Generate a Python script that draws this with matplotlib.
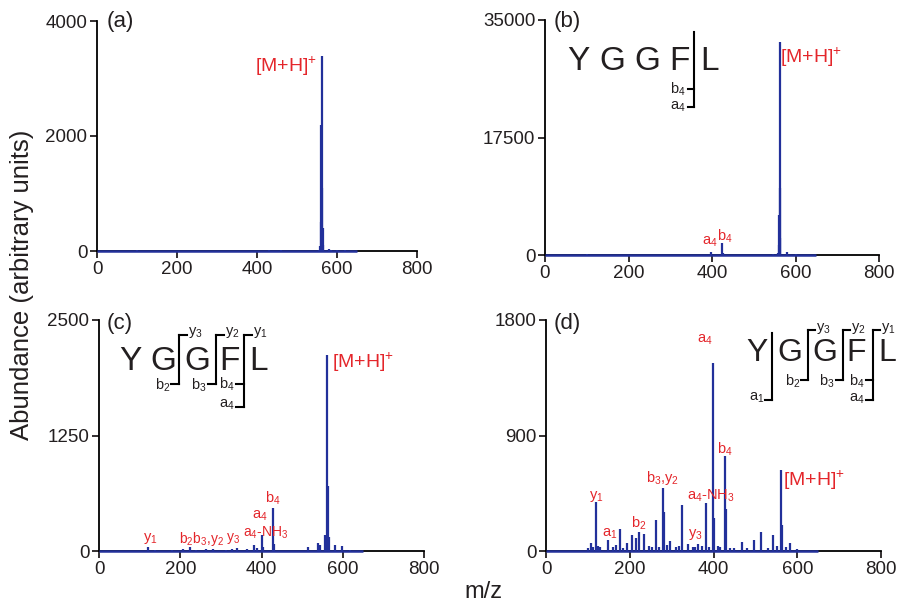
import matplotlib
matplotlib.use("Agg")
import matplotlib.pyplot as plt
from matplotlib.lines import Line2D

plt.rcParams['font.family'] = ['Liberation Sans', 'DejaVu Sans']
plt.rcParams['mathtext.fontset'] = 'custom'
plt.rcParams['mathtext.rm'] = 'Liberation Sans'
plt.rcParams['mathtext.default'] = 'regular'

# ---------------- data ----------------
baseline_range = [0, 650]

mz_a = [100, 430, 460, 555, 558, 560, 561, 562, 563, 564, 565, 580, 584, 600, 620]
int_a = [10, 10, 15, 20, 80, 500, 2200, 3400, 1100, 400, 100, 30, 20, 25, 10]

mz_b = [100, 300, 397, 425, 427, 545, 558, 560, 561, 562, 563, 564, 580, 600]
int_b = [80, 60, 450, 1800, 300, 200, 300, 1500, 6000, 31700, 10000, 2500, 400, 200]

mz_c = [121, 138, 179, 207, 224, 239, 263, 280, 313, 327, 340, 364, 382, 388, 401, 404,
        428, 431, 514, 539, 544, 556, 561, 563, 565, 581, 598, 618]
int_c = [47, 15, 10, 25, 40, 15, 20, 25, 15, 20, 35, 20, 70, 30, 173, 40,
         465, 80, 45, 90, 60, 175, 2120, 700, 150, 70, 50, 10]

mz_d = [100, 107, 112, 119, 125, 130, 148, 160, 168, 176, 185, 193, 205, 215, 222, 234,
        245, 252, 262, 270, 280, 282, 290, 296, 310, 318, 325, 339, 350, 356, 363, 372,
        382, 390, 399, 401, 410, 416, 427, 430, 440, 450, 468, 480, 497, 513, 530, 542,
        552, 561, 564, 572, 583, 600]
int_d = [20, 62, 30, 382, 40, 35, 86, 30, 45, 171, 25, 62, 125, 101, 148, 132,
         40, 35, 241, 30, 491, 304, 45, 78, 30, 40, 358, 55, 30, 35, 55, 40,
         374, 30, 1465, 257, 40, 30, 740, 327, 25, 20, 70, 25, 86, 148, 25, 125,
         40, 631, 202, 30, 62, 15]

panels = [
    ("(a)", mz_a, int_a, [0, 2000, 4000], 4000),
    ("(b)", mz_b, int_b, [0, 17500, 35000], 35000),
    ("(c)", mz_c, int_c, [0, 1250, 2500], 2500),
    ("(d)", mz_d, int_d, [0, 900, 1800], 1800),
]
x_ticks = [0, 200, 400, 600, 800]

# ---------------- layout ----------------
W, H = 897, 603
fig = plt.figure(figsize=(W / 100, H / 100), dpi=100)

def rect(l, t, r, b):
    return [l / W, 1 - b / H, (r - l) / W, (b - t) / H]

rects = [rect(97, 21, 417, 251), rect(545, 20, 879, 255),
         rect(99, 320, 424, 551), rect(546, 320, 881, 551)]

BLUE = '#22309a'
RED = '#e4262b'
FS = 13.5

axes = []
for (lab, mz, it, yt, ytop), r in zip(panels, rects):
    ax = fig.add_axes(r)
    ax.set_xlim(0, 800)
    ax.set_ylim(0, ytop)
    for s in ['top', 'right']:
        ax.spines[s].set_visible(False)
    for s in ['left', 'bottom']:
        ax.spines[s].set_linewidth(1.3)
    ax.set_xticks(x_ticks)
    ax.set_yticks(yt)
    ax.tick_params(direction='out', length=5, width=1.3, labelsize=FS, pad=2,
                   colors='#231f20')
    ax.hlines(0, baseline_range[0], baseline_range[1], color=BLUE, lw=1.8, zorder=5, clip_on=False)
    ax.vlines(mz, 0, it, color=BLUE, lw=1.6, zorder=6, clip_on=False)
    axes.append(ax)

def px(x, y):
    return x / W, 1 - y / H

def ftext(x, y, s, size=10.5, color='#231f20', ha='center', va='center', **kw):
    fx, fy = px(x, y)
    fig.text(fx, fy, s, fontsize=size, color=color, ha=ha, va=va, **kw)

def fline(xs, ys, lw=1.5):
    fig.add_artist(Line2D([x / W for x in xs], [1 - y / H for y in ys],
                          transform=fig.transFigure, color='black', lw=lw))

# panel labels
ftext(107, 22, "(a)", size=16, ha='left')
ftext(554, 21, "(b)", size=16, ha='left')
ftext(107, 323, "(c)", size=16, ha='left')
ftext(554, 323, "(d)", size=16, ha='left')

# axis labels
ftext(22, 285, "Abundance (arbitrary units)", size=18.5, rotation=90)
ftext(483, 592, "m/z", size=17)

MH = r"[M+H]$^{+}$"
# ---------------- panel (a) ----------------
ftext(317, 66, MH, size=14, color=RED, ha='right')

# ---------------- panel (b) ----------------
ftext(780, 57, MH, size=14, color=RED, ha='left')
ftext(725, 236, r"b$_{4}$", size=10.5, color=RED)
ftext(710, 242, r"a$_{4}$", size=10.5, color=RED)
seq = "YGGFL"
for ch, x in zip(seq, [578, 612, 647, 679, 709]):
    ftext(x, 61, ch, size=24)
fline([694, 694], [32, 107])
fline([688, 694], [89, 89])
fline([688, 694], [107, 107])
ftext(686, 89, r"b$_{4}$", ha='right')
ftext(686, 107, r"a$_{4}$", ha='right')

# ---------------- panel (c) ----------------
ftext(332, 362, MH, size=14, color=RED, ha='left')
ftext(273, 498, r"b$_{4}$", color=RED)
ftext(260, 516, r"a$_{4}$", color=RED)
ftext(266, 533, r"a$_{4}$-NH$_{3}$", size=10, color=RED)
ftext(233, 539, r"y$_{3}$", size=10, color=RED)
ftext(202, 539, r"b$_{2}$b$_{3}$,y$_{2}$", size=10, color=RED)
ftext(150, 539, r"y$_{1}$", color=RED)
for ch, x in zip(seq, [130, 163, 197, 229, 258]):
    ftext(x, 361, ch, size=24)
for xb, top, bot, lo_lab, hi_lab in [(179, 335, 384, r"b$_{2}$", r"y$_{3}$"),
                                      (216, 335, 384, r"b$_{3}$", r"y$_{2}$"),
                                      (244, 335, 407, None, r"y$_{1}$")]:
    fline([xb, xb], [top, bot])
    fline([xb, xb + 8], [top, top])
    ftext(xb + 9, top - 2, hi_lab, ha='left')
    if lo_lab:
        fline([xb - 8, xb], [bot, bot])
        ftext(xb - 9, bot + 1, lo_lab, ha='right')
fline([236, 244], [384, 384])
fline([236, 244], [407, 407])
ftext(235, 384, r"b$_{4}$", ha='right')
ftext(235, 405, r"a$_{4}$", ha='right')

# ---------------- panel (d) ----------------
ftext(783, 480, MH, size=14, color=RED, ha='left')
ftext(725, 449, r"b$_{4}$", color=RED)
ftext(705, 340, r"a$_{4}$", color=RED)
ftext(711, 496, r"a$_{4}$-NH$_{3}$", color=RED)
ftext(663, 478, r"b$_{3}$,y$_{2}$", color=RED)
ftext(695, 534, r"y$_{3}$", color=RED)
ftext(639, 523, r"b$_{2}$", color=RED)
ftext(610, 534, r"a$_{1}$", color=RED)
ftext(596, 497, r"y$_{1}$", color=RED)
for ch, x in zip(seq, [757, 790, 825, 856, 887]):
    ftext(x, 353, ch, size=23)
fline([772, 772], [333, 400])
fline([765, 772], [400, 400])
ftext(764, 398, r"a$_{1}$", ha='right')
for xb, lo_lab, hi_lab in [(808, r"b$_{2}$", r"y$_{3}$"),
                           (843, r"b$_{3}$", r"y$_{2}$"),
                           (873, r"b$_{4}$", r"y$_{1}$")]:
    bot = 400 if xb == 873 else 380
    fline([xb, xb], [330, bot])
    fline([xb, xb + 7], [330, 330])
    ftext(xb + 8, 328, hi_lab, ha='left')
    fline([xb - 7, xb], [380, 380])
    ftext(xb - 8, 381, lo_lab, ha='right')
fline([866, 873], [400, 400])
ftext(865, 399, r"a$_{4}$", ha='right')

fig.savefig("out.png", dpi=100)
